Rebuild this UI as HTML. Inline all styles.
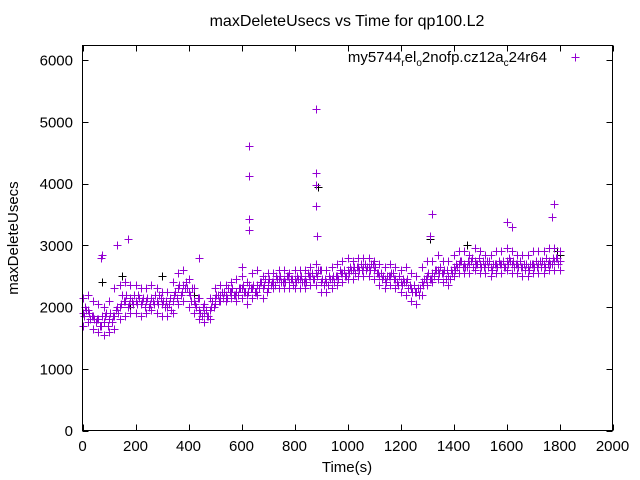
<!DOCTYPE html>
<html><head><meta charset="utf-8">
<style>
html,body{margin:0;padding:0;background:#fff;}
svg{display:block;font-family:"Liberation Sans",sans-serif;}
</style></head>
<body>
<svg id="chart" width="640" height="480" viewBox="0 0 640 480" xmlns="http://www.w3.org/2000/svg">
<rect width="640" height="480" fill="#fff"/>
<text x="347" y="26" font-size="16" text-anchor="middle">maxDeleteUsecs vs Time for qp100.L2</text>
<text x="0" y="0" font-size="15" text-anchor="middle" transform="translate(18,238) rotate(-90)">maxDeleteUsecs</text>
<text x="347" y="472" font-size="15" text-anchor="middle">Time(s)</text>
<g id="axes"></g>
<g id="marks" shape-rendering="crispEdges"></g>
<rect x="82.5" y="45.5" width="530" height="385" fill="none" stroke="#000" stroke-width="1"/>
<g>
<text x="547" y="62" font-size="15" text-anchor="end">my5744<tspan font-size="10" dy="4">r</tspan><tspan dy="-4">el</tspan><tspan font-size="10" dy="4">o</tspan><tspan dy="-4">2nofp.cz12a</tspan><tspan font-size="10" dy="4">c</tspan><tspan dy="-4">24r64</tspan></text>
<path d="M571.5 57.5h8M575.5 53.5v8" stroke="#9400d3" stroke-width="1"/>
</g>
</svg>
<script>
const xTicks = [0,200,400,600,800,1000,1200,1400,1600,1800,2000];
const yTicks = [0,1000,2000,3000,4000,5000,6000];
const midV = [1900,1950,1850,1800,1750,1800,1850,2000,2100,2150,2100,2050,2100,2150,2100,2050,2000,2100,2300,2350,2250,2100,1950,1900,1950,2150,2200,2200,2250,2250,2300,2200,2300,2350,2300,2400,2400,2450,2450,2400,2450,2450,2450,2500,2550,2400,2400,2450,2500,2550,2600,2600,2650,2650,2650,2600,2500,2450,2500,2450,2400,2400,2300,2250,2400,2500,2550,2600,2550,2500,2650,2700,2700,2700,2750,2700,2700,2650,2700,2700,2750,2700,2700,2650,2650,2700,2700,2700,2750,2750,2750];
const hiV = [2150,2200,2100,2050,2000,2100,2300,2350,2400,2350,2350,2300,2300,2350,2300,2250,2250,2400,2550,2600,2450,2300,2150,2050,2150,2300,2350,2350,2400,2450,2500,2400,2550,2600,2500,2550,2550,2600,2600,2550,2600,2600,2600,2650,2700,2600,2600,2650,2700,2750,2800,2750,2800,2800,2800,2750,2700,2650,2700,2650,2600,2650,2550,2500,2650,2750,2750,2850,2750,2750,2850,2900,2900,2850,2950,2900,2850,2850,2900,2900,2950,2900,2850,2850,2850,2900,2900,2900,2950,2950,2900];
const loV = [1700,1750,1650,1600,1550,1600,1650,1800,1850,1900,1900,1850,1900,1950,1900,1850,1850,1900,2050,2100,2000,1900,1800,1750,1800,2050,2100,2100,2150,2100,2150,2050,2150,2200,2150,2300,2300,2300,2300,2300,2300,2300,2300,2350,2350,2250,2250,2300,2350,2400,2450,2450,2500,2500,2500,2450,2350,2300,2350,2300,2250,2200,2100,2050,2200,2350,2400,2450,2400,2350,2500,2550,2550,2550,2600,2550,2550,2500,2550,2550,2600,2550,2550,2500,2500,2550,2550,2550,2600,2600,2600];
const altV = [2000,1800,1750,1700,1900,1750,2000,2200,2000,2050,2200,2150,2000,2050,2200,2000,2150,2250,2200,2400,2100,2000,1850,1850,2100,2200,2150,2300,2200,2300,2250,2350,2250,2400,2450,2350,2500,2400,2500,2450,2500,2400,2550,2450,2600,2350,2500,2400,2600,2500,2650,2550,2700,2600,2700,2550,2450,2500,2550,2350,2450,2300,2350,2200,2450,2450,2600,2650,2450,2600,2700,2750,2650,2800,2700,2750,2650,2700,2750,2650,2800,2650,2750,2600,2700,2750,2650,2800,2700,2800];
const q1V = [1850,1900,1800,1700,1850,1900,1950,2050,2200,2100,2050,2100,2150,2100,2050,2100,2050,2200,2350,2300,2200,2050,1900,1950,2000,2200,2250,2150,2300,2200,2350,2250,2350,2300,2350,2450,2350,2500,2400,2450,2400,2500,2400,2550,2500,2450,2350,2500,2450,2600,2550,2650,2600,2700,2600,2650,2550,2400,2550,2400,2350,2450,2250,2300,2350,2550,2500,2550,2600,2450,2600,2750,2650,2750,2700,2650,2750,2600,2650,2750,2700,2750,2650,2700,2600,2650,2750,2650,2700,2800];
const q3V = [1950,1850,1800,1850,1700,1850,1900,2100,2050,2200,2150,2000,2050,2200,2150,2100,1950,2150,2250,2300,2300,2150,2000,1850,2000,2100,2250,2250,2200,2300,2250,2300,2250,2400,2250,2400,2450,2400,2500,2350,2450,2400,2500,2450,2600,2450,2450,2500,2550,2500,2600,2650,2600,2650,2700,2550,2500,2500,2450,2500,2400,2350,2250,2300,2450,2450,2600,2550,2600,2550,2650,2650,2750,2650,2800,2650,2750,2700,2700,2650,2750,2700,2650,2700,2700,2650,2750,2700,2800,2700];
const outT = [70,75,130,170,440,600,630,630,630,630,880,880,880,880,885,1310,1320,1600,1620,1770,1780];
const outV = [2800,2850,3000,3100,2800,2650,4600,4120,3430,3250,5200,4170,3980,3640,3150,3150,3500,3380,3300,3450,3670];
const blackT = [75,150,180,300,420,890,1310,1450,1790,1800];
const blackV = [2400,2500,2000,2500,2200,3950,3100,3000,2900,2850];

const X0=82.5, X1=612.5, Y0=430.5, Y1=60;
function xs(v){return X0+(v-0)/(2000-0)*(X1-X0);}
function ys(v){return Y0-(v-0)/(6000-0)*(Y0-Y1);}
const NS="http://www.w3.org/2000/svg";
const axes=document.getElementById('axes');
const marks=document.getElementById('marks');

xTicks.forEach(function(t){
  const x=Math.round(xs(t))+0.5;
  const p=document.createElementNS(NS,'path');
  p.setAttribute('d','M'+x+' 430.5v-6M'+x+' 45.5v6');
  p.setAttribute('stroke','#000');
  
  
  axes.appendChild(p);
  const l=document.createElementNS(NS,'text');
  l.setAttribute('x',xs(t));l.setAttribute('y',451);
  l.setAttribute('font-size','15');l.setAttribute('text-anchor','middle');
  
  
  l.textContent=t;axes.appendChild(l);
});
yTicks.forEach(function(t){
  const y=Math.round(ys(t))+0.5;
  const p=document.createElementNS(NS,'path');
  p.setAttribute('d','M82.5 '+y+'h6M612.5 '+y+'h-6');
  p.setAttribute('stroke','#000');
  
  
  axes.appendChild(p);
  const l=document.createElementNS(NS,'text');
  l.setAttribute('x',73);l.setAttribute('y',ys(t)+5.5);
  l.setAttribute('font-size','15');l.setAttribute('text-anchor','end');
  
  
  l.textContent=t;axes.appendChild(l);
});

function drawSeries(times, vals, color, name){
  let d='';
  for(let i=0;i<vals.length;i++){
    const x=Math.round(xs(times[i]))+0.5, y=Math.round(ys(vals[i]))+0.5;
    d+='M'+(x-4)+' '+y+'h8M'+x+' '+(y-4)+'v8';
  }
  const p=document.createElementNS(NS,'path');
  p.setAttribute('d',d);p.setAttribute('stroke',color);
  p.setAttribute('stroke-width','1');p.setAttribute('fill','none');
  
  
  marks.appendChild(p);
}
const baseT = midV.map(function(_,i){return i*20;});
const altT = altV.map(function(_,i){return i*20+10;});
const q1T = q1V.map(function(_,i){return i*20+5;});
const q3T = q3V.map(function(_,i){return i*20+15;});
drawSeries(blackT, blackV, '#000', 'black-points');
drawSeries(baseT, loV, '#9400d3', 'points-low');
drawSeries(baseT, hiV, '#9400d3', 'points-high');
drawSeries(altT, altV, '#9400d3', 'points-alt');
drawSeries(q1T, q1V, '#9400d3', 'points-q1');
drawSeries(q3T, q3V, '#9400d3', 'points-q3');
drawSeries(baseT, midV, '#9400d3', 'points-mid');
drawSeries(outT, outV, '#9400d3', 'points-outliers');
</script>
</body></html>
